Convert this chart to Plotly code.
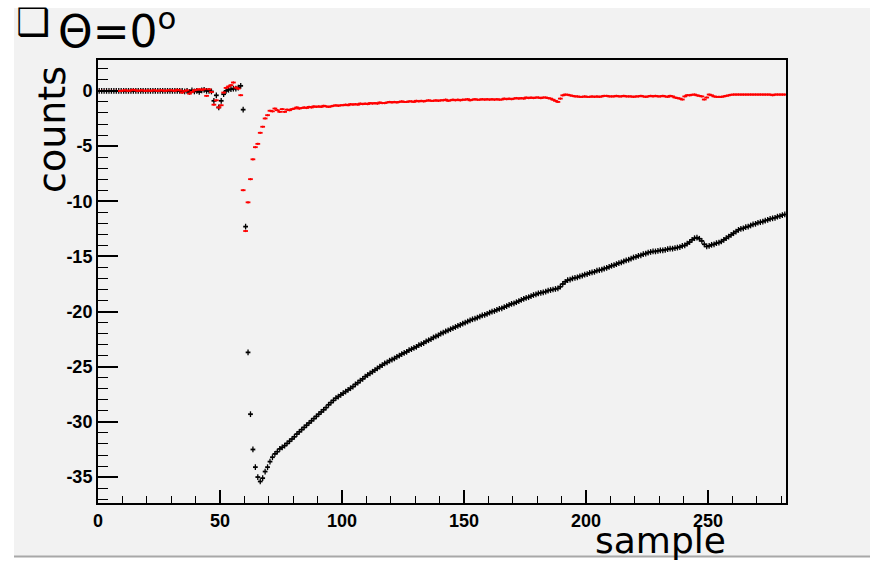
import numpy as np
import plotly.graph_objects as go

# ---------------- data ----------------
sample_index = np.arange(282)

black_counts = [
    0, 0, 0, 0, 0, 0, 0, 0, 0, 0,
    0, 0, 0, 0, 0, 0, 0, 0, 0, 0,
    0, 0, 0, 0, 0, 0, 0, 0, 0, 0,
    0, 0, 0, 0, 0, -0.05, 0, -0.1, 0.05, -0.05,
    0, -0.1, 0.05, 0.1, 0, 0, -0.05, -0.9, -0.4, -1.5,
    -0.9, -0.3, 0, 0.1, 0.15, 0.2, 0.21, 0.3, 0.46, -1.7,
    -12.3, -23.7, -29.3, -32.5, -34.1, -35.0, -35.4, -35.1, -34.5, -34.1,
    -33.6, -33.2, -32.9, -32.7, -32.45, -32.3, -32.15, -31.95, -31.75, -31.55,
    -31.35, -31.1, -30.9, -30.7, -30.5, -30.3, -30.1, -29.9, -29.7, -29.5,
    -29.3, -29.1, -28.9, -28.7, -28.45, -28.25, -28.05, -27.85, -27.7, -27.55,
    -27.4, -27.25, -27.1, -26.95, -26.8, -26.6, -26.45, -26.25, -26.1, -25.9,
    -25.75, -25.6, -25.45, -25.3, -25.15, -25.0, -24.85, -24.7, -24.6, -24.45,
    -24.35, -24.25, -24.1, -24.0, -23.85, -23.75, -23.65, -23.5, -23.4, -23.3,
    -23.2, -23.05, -22.95, -22.85, -22.7, -22.6, -22.5, -22.35, -22.25, -22.15,
    -22.0, -21.9, -21.8, -21.7, -21.6, -21.5, -21.4, -21.3, -21.2, -21.1,
    -21.0, -20.9, -20.8, -20.7, -20.65, -20.55, -20.45, -20.35, -20.3, -20.2,
    -20.1, -20.0, -19.95, -19.85, -19.75, -19.7, -19.6, -19.5, -19.4, -19.3,
    -19.25, -19.15, -19.05, -18.95, -18.85, -18.75, -18.7, -18.6, -18.5, -18.45,
    -18.35, -18.3, -18.25, -18.2, -18.1, -18.05, -18.0, -17.95, -17.9, -17.75,
    -17.5, -17.3, -17.15, -17.1, -17.0, -16.95, -16.9, -16.8, -16.75, -16.65,
    -16.6, -16.5, -16.45, -16.4, -16.3, -16.25, -16.2, -16.1, -16.05, -15.95,
    -15.85, -15.8, -15.7, -15.6, -15.55, -15.45, -15.35, -15.3, -15.2, -15.1,
    -15.05, -14.95, -14.9, -14.8, -14.75, -14.65, -14.6, -14.55, -14.55, -14.5,
    -14.45, -14.45, -14.4, -14.35, -14.3, -14.3, -14.25, -14.2, -14.15, -14.05,
    -14.0, -13.85, -13.7, -13.5, -13.35, -13.3, -13.4, -13.6, -13.9, -14.1,
    -14.05, -13.95, -13.9, -13.8, -13.75, -13.65, -13.5, -13.35, -13.2, -13.05,
    -12.9, -12.75, -12.6, -12.5, -12.45, -12.35, -12.3, -12.2, -12.1, -12.05,
    -11.95, -11.9, -11.85, -11.75, -11.7, -11.6, -11.55, -11.5, -11.4, -11.35,
    -11.25, -11.2,
]

red_counts = [
    0, 0, 0, 0, 0, 0, 0, 0, 0, 0,
    0.05, 0.05, 0.0, 0.05, 0.1, 0.05, 0.0, 0.05, 0.05, 0.0,
    0.05, 0.0, 0.05, 0.05, 0.0, 0.05, 0.05, 0.0, 0.05, 0.05,
    0.05, 0.0, 0.1, 0.05, -0.15, 0.0, 0.05, -0.25, -0.1, 0.05,
    0.1, 0.15, 0.1, 0.15, -0.45, 0.15, -0.1, -1.25, -0.85, -1.5,
    -1.3, -0.15, 0.27, 0.4, 0.52, 0.76, 0.3, 0.21, -0.39, -9.0,
    -12.7, -10.1, -8.0, -6.2, -5.1, -4.8, -3.8, -3.25, -2.5, -2.2,
    -1.8, -1.85, -1.6, -1.75, -1.9, -1.65, -1.9, -1.7, -1.75, -1.65,
    -1.6, -1.5, -1.6, -1.55, -1.5, -1.55, -1.45, -1.5, -1.4, -1.45,
    -1.4, -1.45, -1.35, -1.4, -1.45, -1.4, -1.35, -1.3, -1.35, -1.3,
    -1.3, -1.25, -1.3, -1.2, -1.25, -1.2, -1.25, -1.15, -1.2, -1.15,
    -1.2, -1.1, -1.15, -1.1, -1.15, -1.05, -1.1, -1.1, -1.05, -1.0,
    -1.05, -1.0, -1.05, -1.0, -0.95, -1.0, -1.0, -0.95, -0.95, -1.0,
    -0.9, -0.95, -0.9, -0.95, -0.9, -0.85, -0.9, -0.9, -0.85, -0.9,
    -0.85, -0.85, -0.8, -0.9, -0.85, -0.8, -0.85, -0.8, -0.85, -0.8,
    -0.8, -0.75, -0.85, -0.8, -0.75, -0.8, -0.8, -0.75, -0.8, -0.75,
    -0.8, -0.75, -0.8, -0.75, -0.8, -0.78, -0.7, -0.75, -0.7, -0.75,
    -0.7, -0.65, -0.7, -0.65, -0.7, -0.6, -0.65, -0.6, -0.65, -0.6,
    -0.6, -0.65, -0.6, -0.6, -0.65, -0.7, -0.8, -0.9, -1.0, -0.7,
    -0.4, -0.33, -0.35, -0.4, -0.45, -0.5, -0.5, -0.54, -0.54, -0.5,
    -0.54, -0.54, -0.5, -0.54, -0.5, -0.54, -0.5, -0.45, -0.45, -0.5,
    -0.5, -0.5, -0.45, -0.5, -0.5, -0.45, -0.5, -0.5, -0.5, -0.54,
    -0.5, -0.5, -0.45, -0.5, -0.54, -0.5, -0.45, -0.5, -0.45, -0.5,
    -0.5, -0.45, -0.5, -0.54, -0.45, -0.5, -0.6, -0.65, -0.7, -0.78,
    -0.5, -0.39, -0.4, -0.35, -0.33, -0.4, -0.45, -0.5, -0.78, -0.6,
    -0.33, -0.4, -0.5, -0.54, -0.54, -0.54, -0.5, -0.45, -0.4, -0.35,
    -0.33, -0.33, -0.33, -0.33, -0.33, -0.33, -0.33, -0.33, -0.33, -0.33,
    -0.33, -0.33, -0.33, -0.33, -0.33, -0.33, -0.39, -0.33, -0.33, -0.33,
    -0.33, -0.33,
]

x_tick_vals = [0, 50, 100, 150, 200, 250]
x_tick_text = ["0", "50", "100", "150", "200", "250"]
y_tick_vals = [0, -5, -10, -15, -20, -25, -30, -35]
y_tick_text = ["0", "-5", "-10", "-15", "-20", "-25", "-30", "-35"]

# ---------------- figure ----------------
bin_centers = sample_index + 0.5

fig = go.Figure()
for vals, col, ey in ((black_counts, "black", 0.26), (red_counts, "#ff0000", 0.1)):
    fig.add_trace(go.Scatter(
        x=bin_centers, y=vals, mode="markers",
        marker=dict(symbol="line-ew-open", size=3.4, color=col,
                    line=dict(color=col, width=1.8)),
        error_y=dict(type="constant", value=ey, thickness=1.3, width=0, color=col),
        hoverinfo="skip", showlegend=False,
    ))

W, H = 870, 562
L, R, T, B = 98, 84, 60, 59
pw, ph = W - L - R, H - T - B


def px(xp):
    return (xp - L) / pw


def py(yp):
    return (H - B - yp) / ph


tick_font = dict(family="Liberation Sans, Arial, sans-serif", size=18, color="black", weight="bold")
label_font = dict(family="DejaVu Sans, sans-serif", color="black")

fig.update_layout(
    width=W, height=H,
    margin=dict(l=L, r=R, t=T, b=B, pad=0),
    paper_bgcolor="#f2f2f2",
    plot_bgcolor="#f2f2f2",
    hovermode=False,
    xaxis=dict(
        range=[0, 282], showgrid=False, zeroline=False,
        showline=True, linecolor="black", linewidth=2, mirror=True,
        ticks="inside", ticklen=13, tickwidth=1.5, tickcolor="black",
        tickvals=x_tick_vals, ticktext=x_tick_text, tickfont=tick_font,
        minor=dict(ticks="inside", dtick=10, tick0=0, ticklen=7, tickwidth=1.2,
                   tickcolor="black", showgrid=False),
    ),
    yaxis=dict(
        range=[-37.35, 2.8], showgrid=False, zeroline=False,
        showline=True, linecolor="black", linewidth=2, mirror=True,
        ticks="inside", ticklen=20, tickwidth=1.5, tickcolor="black",
        tickvals=y_tick_vals, ticktext=y_tick_text, tickfont=tick_font,
        minor=dict(ticks="inside", dtick=1, tick0=0, ticklen=10, tickwidth=1.2,
                   tickcolor="black", showgrid=False),
    ),
    shapes=[
        # white page margins around the grey canvas
        dict(type="rect", xref="paper", yref="paper", layer="below",
             x0=px(0), x1=px(14), y0=py(H), y1=py(0),
             fillcolor="white", line=dict(width=0)),
        dict(type="rect", xref="paper", yref="paper", layer="below",
             x0=px(0), x1=px(W), y0=py(8), y1=py(0),
             fillcolor="white", line=dict(width=0)),
        dict(type="rect", xref="paper", yref="paper", layer="below",
             x0=px(0), x1=px(W), y0=py(H), y1=py(557),
             fillcolor="white", line=dict(width=0)),
        dict(type="line", xref="paper", yref="paper", layer="below",
             x0=px(14), x1=px(W), y0=py(556.5), y1=py(556.5),
             line=dict(color="#a8a8a8", width=2)),
    ],
    annotations=[
        dict(text="\u2751", xref="paper", yref="paper", x=px(14), y=py(22),
             xanchor="left", yanchor="middle", showarrow=False,
             font=dict(family="DejaVu Sans, sans-serif", size=38, color="black")),
        dict(text="\u0398=0<sup>o</sup>", xref="paper", yref="paper", x=px(56), y=py(29),
             xanchor="left", yanchor="middle", showarrow=False,
             font=dict(label_font, size=44)),
        dict(text="counts", xref="paper", yref="paper", x=px(52), y=py(130),
             xanchor="center", yanchor="middle", showarrow=False, textangle=-90,
             font=dict(label_font, size=38)),
        dict(text="sample", xref="paper", yref="paper", x=px(660), y=py(540),
             xanchor="center", yanchor="middle", showarrow=False,
             font=dict(label_font, size=36)),
    ],
)

fig.write_html("out.html")
